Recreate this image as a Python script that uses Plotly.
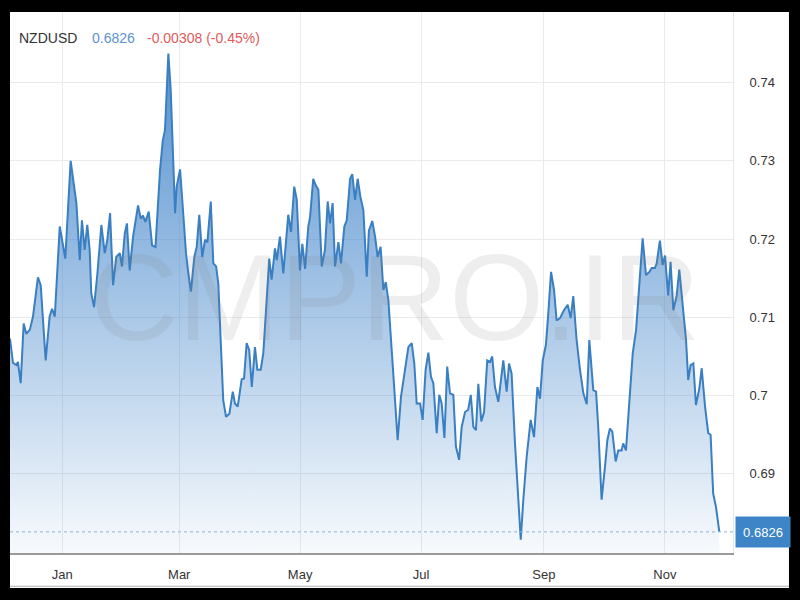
import plotly.graph_objects as go
import pandas as pd

# ---------------- data ----------------
base_date = "2015-01-01"
symbol = "NZDUSD"
last_price = 0.6826
last_price_text = "0.6826"
change_text = "-0.00308 (-0.45%)"

# days from base_date for each sample
days_from_base = [
    -26.4, -24.9, -23.2, -22.4, -21.0, -19.5, -18.2, -16.4, -14.8, -12.3,
    -10.9, -8.4, -6.4, -5.2, -3.8, -1.3, 1.5, 4.2, 7.1, 8.8,
    9.9, 11.3, 12.6, 13.8, 14.6, 16.0, 17.7, 19.7, 21.4, 22.7,
    24.1, 25.6, 27.2, 29.0, 30.1, 31.5, 32.6, 34.0, 35.7, 38.2,
    39.6, 40.7, 41.9, 43.6, 45.3, 47.0, 49.3, 50.7, 51.8, 53.5,
    54.7, 55.7, 56.9, 57.7, 59.4, 61.0, 62.4, 63.6, 64.9, 66.6,
    67.8, 69.1, 70.6, 72.0, 73.2, 74.9, 76.2, 77.6, 78.7, 79.9,
    81.2, 82.6, 84.3, 86.0, 87.1, 88.5, 90.5, 91.7, 93.0, 94.3,
    95.6, 97.2, 98.4, 100.1, 101.4, 103.1, 104.4, 105.6, 107.3, 108.2,
    109.8, 111.5, 114.0, 115.4, 117.0, 118.3, 119.9, 121.1, 122.5, 124.1,
    125.0, 126.6, 127.8, 129.2, 130.9, 132.5, 133.9, 135.1, 136.4, 137.6,
    139.3, 140.6, 142.3, 143.5, 145.2, 146.3, 147.7, 149.0, 150.4, 151.9,
    153.6, 154.7, 156.4, 157.8, 159.1, 160.6, 162.0, 163.2, 164.5, 166.2,
    167.9, 169.2, 170.9, 172.9, 174.6, 176.3, 177.6, 178.8, 180.5, 181.8,
    183.3, 184.7, 186.0, 187.2, 188.9, 190.2, 191.4, 192.8, 194.2, 195.6,
    197.3, 198.6, 200.2, 201.5, 203.2, 204.8, 206.1, 207.4, 208.7, 209.9,
    211.4, 212.8, 214.4, 215.8, 216.9, 218.3, 220.0, 222.5, 224.2, 225.4,
    226.7, 228.4, 230.1, 231.3, 232.6, 234.3, 236.3, 238.0, 239.7, 241.0,
    242.4, 244.0, 245.2, 246.6, 248.1, 249.4, 251.1, 253.1, 255.0, 256.5,
    257.8, 259.5, 261.2, 262.9, 264.6, 265.9, 267.9, 269.3, 270.4, 272.1,
    273.8, 275.0, 276.3, 277.5, 279.2, 280.5, 282.2, 283.0, 284.4, 286.1,
    287.8, 289.5, 290.6, 292.8, 294.5, 296.2, 297.4, 299.0, 299.9, 301.5,
    302.9, 304.1, 305.7, 306.9, 308.3, 310.0, 311.3, 313.0, 314.7, 315.8,
    317.0, 318.4, 319.7, 321.4, 322.6, 324.3, 325.9, 327.1, 328.4, 329.8,
    331.5,
]

rate = [
    0.7073, 0.7042, 0.7039, 0.7043, 0.7016, 0.7092, 0.7079, 0.7084, 0.7101, 0.7151,
    0.7141, 0.7045, 0.7101, 0.7111, 0.7101, 0.7216, 0.7175, 0.7300, 0.7246, 0.7173,
    0.7224, 0.7186, 0.7218, 0.7186, 0.7131, 0.7113, 0.7156, 0.7218, 0.7182, 0.7199,
    0.7233, 0.7141, 0.7177, 0.7182, 0.7165, 0.7207, 0.7220, 0.7160, 0.7203, 0.7243,
    0.7226, 0.7230, 0.7222, 0.7235, 0.7192, 0.7190, 0.7288, 0.7326, 0.7339, 0.7437,
    0.7390, 0.7326, 0.7233, 0.7267, 0.7289, 0.7233, 0.7182, 0.7156, 0.7133, 0.7177,
    0.7190, 0.7231, 0.7177, 0.7199, 0.7196, 0.7248, 0.7169, 0.7165, 0.7143, 0.7071,
    0.6994, 0.6973, 0.6977, 0.7005, 0.6990, 0.6986, 0.7021, 0.7022, 0.7067, 0.7058,
    0.7011, 0.7062, 0.7033, 0.7033, 0.7054, 0.7122, 0.7175, 0.7148, 0.7188, 0.7173,
    0.7203, 0.7156, 0.7231, 0.7209, 0.7267, 0.7250, 0.7160, 0.7194, 0.7162, 0.7216,
    0.7228, 0.7277, 0.7269, 0.7263, 0.7165, 0.7186, 0.7248, 0.7220, 0.7246, 0.7165,
    0.7196, 0.7169, 0.7216, 0.7224, 0.7277, 0.7283, 0.7250, 0.7277, 0.7254, 0.7237,
    0.7152, 0.7211, 0.7223, 0.7203, 0.7177, 0.7190, 0.7135, 0.7145, 0.7122, 0.7058,
    0.6990, 0.6943, 0.6999, 0.7033, 0.7062, 0.7067, 0.7041, 0.6990, 0.6990, 0.6969,
    0.7033, 0.7055, 0.7024, 0.7016, 0.6952, 0.7001, 0.6990, 0.6946, 0.7037, 0.7003,
    0.7001, 0.6935, 0.6918, 0.6960, 0.6979, 0.6982, 0.7001, 0.6960, 0.6956, 0.7015,
    0.6967, 0.6979, 0.7045, 0.7043, 0.7050, 0.7011, 0.6992, 0.7045, 0.7005, 0.7041,
    0.7028, 0.6939, 0.6871, 0.6816, 0.6867, 0.6922, 0.6969, 0.6947, 0.7011, 0.6996,
    0.7045, 0.7065, 0.7105, 0.7158, 0.7135, 0.7096, 0.7099, 0.7109, 0.7116, 0.7099,
    0.7127, 0.7071, 0.7033, 0.7003, 0.6989, 0.7071, 0.7007, 0.7005, 0.6960, 0.6867,
    0.6909, 0.6943, 0.6958, 0.6954, 0.6916, 0.6930, 0.6930, 0.6939, 0.6930, 0.6986,
    0.7054, 0.7084, 0.7122, 0.7201, 0.7154, 0.7158, 0.7163, 0.7163, 0.7169, 0.7198,
    0.7167, 0.7179, 0.7128, 0.7171, 0.7109, 0.7128, 0.7161, 0.7120, 0.7071, 0.7020,
    0.7039, 0.7041, 0.6988, 0.7009, 0.7035, 0.6986, 0.6952, 0.6950, 0.6875, 0.6858,
    0.6826,
]

y_tick_values = [0.69, 0.70, 0.71, 0.72, 0.73, 0.74]
y_tick_labels = ["0.69", "0.7", "0.71", "0.72", "0.73", "0.74"]
watermark_text = "CMPRO.IR"

# ---------------- figure ----------------
base = pd.Timestamp(base_date)
dates = base + pd.to_timedelta(days_from_base, unit="D")
x_range = [base + pd.Timedelta(days=-26.4), base + pd.Timedelta(days=338.4)]
y_range = [0.6799, 0.7490]

FONT = "Liberation Sans, Arial, Helvetica, sans-serif"
LINE_BLUE = "#3a7fc2"

fig = go.Figure()
fig.add_trace(go.Scatter(
    x=dates, y=rate, mode="lines",
    line=dict(color=LINE_BLUE, width=2),
    fill="tozeroy",
    fillgradient=dict(
        type="vertical",
        colorscale=[[0, "rgba(58,128,200,0.04)"], [1, "rgba(58,128,200,0.88)"]],
        start=y_range[0], stop=0.745,
    ),
    hoverinfo="skip", showlegend=False,
))

fig.update_layout(
    width=800, height=600,
    margin=dict(l=10, r=67, t=12, b=47),
    paper_bgcolor="black",
    plot_bgcolor="white",
    font=dict(family=FONT, size=13, color="#333"),
    showlegend=False,
    xaxis=dict(
        type="date", range=x_range,
        tick0=base_date, dtick="M2", tickformat="%b",
        showgrid=True, gridcolor="#ebebeb", gridwidth=1,
        showline=True, linecolor="#9a9a9a", linewidth=2,
        ticks="outside", ticklen=8, tickcolor="rgba(0,0,0,0)",
        tickfont=dict(family=FONT, size=13, color="#333"),
        zeroline=False, fixedrange=True,
    ),
    yaxis=dict(
        side="right", range=y_range,
        tickvals=y_tick_values, ticktext=y_tick_labels,
        showgrid=True, gridcolor="#ebebeb", gridwidth=1,
        showline=True, linecolor="#e6e6e6", linewidth=1,
        ticks="outside", ticklen=13, tickcolor="rgba(0,0,0,0)",
        tickfont=dict(family=FONT, size=13, color="#333"),
        zeroline=False, fixedrange=True,
    ),
    shapes=[
        # white card behind the chart (black frame around)
        dict(type="rect", xref="paper", yref="paper",
             x0=0, x1=1.0774, y0=-0.0647, y1=1,
             fillcolor="white", line=dict(width=0), layer="below"),
        # bottom edge of card
        dict(type="line", xref="paper", yref="paper",
             x0=0, x1=1.0774, y0=-0.0615, y1=-0.0615,
             line=dict(color="#b0b0b0", width=1)),
        # last price dotted line
        dict(type="line", xref="paper", yref="y",
             x0=0, x1=1, y0=last_price, y1=last_price,
             line=dict(color="#8fb4da", width=1, dash="dot")),
    ],
    annotations=[
        dict(text=symbol, xref="paper", yref="paper", x=0.0097, y=0.952,
             xanchor="left", yanchor="middle", showarrow=False,
             font=dict(family=FONT, size=14, color="#333")),
        dict(text=last_price_text, xref="paper", yref="paper", x=0.1107, y=0.952,
             xanchor="left", yanchor="middle", showarrow=False,
             font=dict(family=FONT, size=14, color="#5a93d0")),
        dict(text=change_text, xref="paper", yref="paper", x=0.1867, y=0.952,
             xanchor="left", yanchor="middle", showarrow=False,
             font=dict(family=FONT, size=14, color="#e05a5a")),
        dict(text=last_price_text, xref="paper", yref="y", x=1.0028, y=last_price,
             xanchor="left", yanchor="middle", showarrow=False,
             bgcolor="#3d85c6", width=50, height=26, borderpad=2,
             font=dict(family=FONT, size=13, color="white")),
        dict(text=watermark_text, xref="paper", yref="paper", x=0.5325, y=0.472,
             xanchor="center", yanchor="middle", showarrow=False,
             font=dict(family=FONT, size=122, color="rgba(120,120,120,0.13)")),
    ],
)

fig.write_html(
    "out.html",
    config={"displayModeBar": False},
    post_script="document.body.style.margin='0';document.body.style.background='black';",
)
